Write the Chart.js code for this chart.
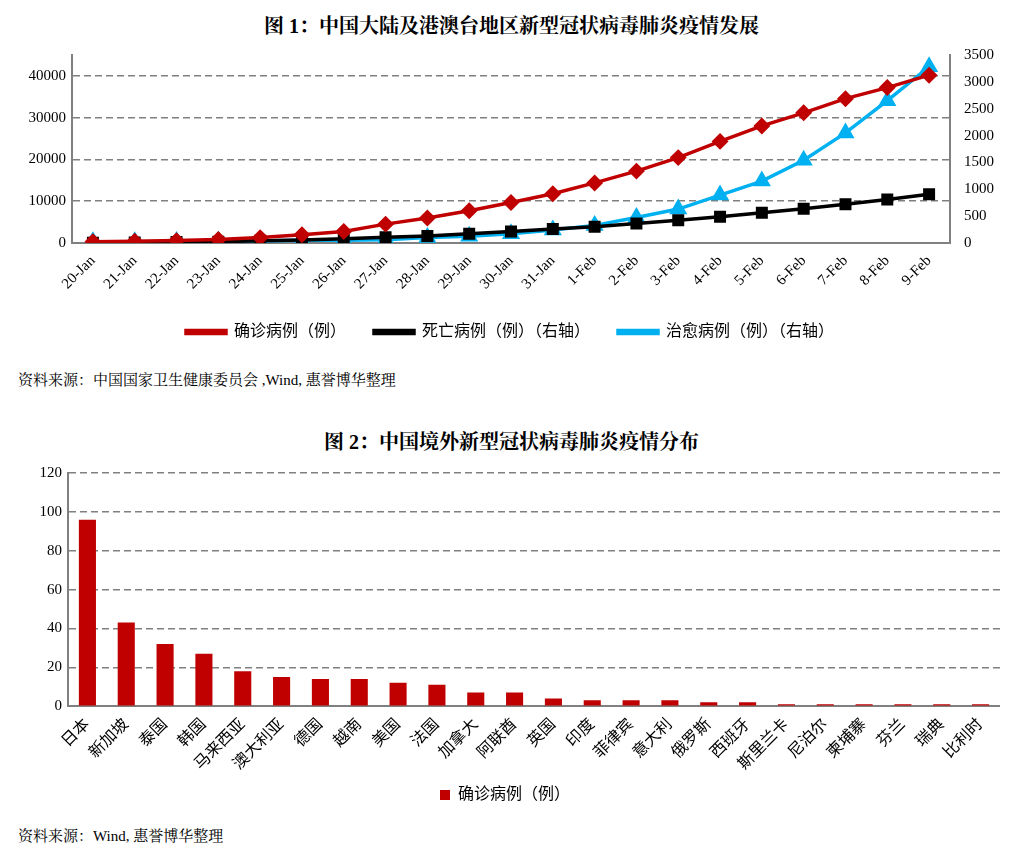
<!DOCTYPE html>
<html><head><meta charset="utf-8">
<script src="https://cdn.jsdelivr.net/npm/chart.js@4"></script>
<style>
body{margin:0;background:#fff;font-family:"Liberation Serif","Noto Serif CJK SC","Noto Sans CJK SC",serif;}
.t{position:absolute;left:0;width:1023px;text-align:center;font-weight:bold;font-size:20px;color:#000;}
.s{position:absolute;left:18px;font-size:15px;color:#000;}
#w1{position:absolute;left:8px;top:40px;width:1004px;height:310px;}
#w2{position:absolute;left:10px;top:458px;width:990px;height:355px;}
</style></head><body>
<div class="t" style="top:10px">图 1：中国大陆及港澳台地区新型冠状病毒肺炎疫情发展</div>
<div id="w1"><canvas id="c1"></canvas></div>
<div class="s" style="top:368px">资料来源：中国国家卫生健康委员会 ,Wind, 惠誉博华整理</div>
<div class="t" style="top:426px">图 2：中国境外新型冠状病毒肺炎疫情分布</div>
<div id="w2"><canvas id="c2"></canvas></div>
<div class="s" style="top:824px">资料来源：Wind, 惠誉博华整理</div>
<script>
const dates=["20-Jan","21-Jan","22-Jan","23-Jan","24-Jan","25-Jan","26-Jan","27-Jan","28-Jan","29-Jan","30-Jan","31-Jan","1-Feb","2-Feb","3-Feb","4-Feb","5-Feb","6-Feb","7-Feb","8-Feb","9-Feb"];
const confirmed=[291,440,571,830,1287,1975,2744,4515,5974,7711,9692,11791,14380,17205,20438,24324,28018,31161,34546,37198,40171];
const deaths=[6,9,17,25,41,56,80,106,132,170,213,259,304,361,425,490,563,636,722,811,908];
const cured=[25,25,28,34,38,49,51,60,103,124,171,243,328,475,632,892,1153,1540,2050,2649,3281];
const countries=["日本","新加坡","泰国","韩国","马来西亚","澳大利亚","德国","越南","美国","法国","加拿大","阿联酋","英国","印度","菲律宾","意大利","俄罗斯","西班牙","斯里兰卡","尼泊尔","柬埔寨","芬兰","瑞典","比利时"];
const abroad=[96,43,32,27,18,15,14,14,12,11,7,7,4,3,3,3,2,2,1,1,1,1,1,1];

const F="'Liberation Serif','Noto Sans CJK SC',serif";
Chart.defaults.font.family=F;Chart.defaults.font.size=15;Chart.defaults.color="#000";
const grid={color:"#808080",lineWidth:1.5,drawTicks:false};
const border={color:"#808080",width:2};
const plain=v=>String(v);
new Chart(document.getElementById('c1'),{type:'line',
data:{labels:dates,datasets:[
{label:"确诊病例（例）",data:confirmed,yAxisID:'y',borderColor:"#c00000",backgroundColor:"#c00000",pointStyle:'rectRot',pointRadius:6,borderWidth:3.5},
{label:"死亡病例（例）（右轴）",data:deaths,yAxisID:'y2',borderColor:"#000",backgroundColor:"#000",pointStyle:'rect',pointRadius:6,borderWidth:3.5},
{label:"治愈病例（例）（右轴）",data:cured,yAxisID:'y2',borderColor:"#00b0f0",backgroundColor:"#00b0f0",pointStyle:'triangle',pointRadius:7,borderWidth:3.5}]},
options:{responsive:true,maintainAspectRatio:false,animation:false,
plugins:{legend:{position:'bottom',labels:{boxWidth:40,boxHeight:3,font:{size:16},padding:28}},tooltip:{enabled:false}},
scales:{
x:{offset:true,grid:{display:false,offset:true,drawTicks:true,tickLength:6,color:"#808080"},border:border,ticks:{minRotation:45,maxRotation:45,font:{size:15}}},
y:{min:0,max:45000,ticks:{stepSize:5000,padding:6,callback:plain},grid:grid,border:{...border,dash:[7,4]},afterFit:a=>{a.width=64}},
y2:{position:'right',min:0,max:3500,ticks:{stepSize:500,padding:6,callback:plain},grid:{display:false},border:border,afterFit:a=>{a.width=62}}}}});

new Chart(document.getElementById('c2'),{type:'bar',
data:{labels:countries,datasets:[{label:"确诊病例（例）",data:abroad,backgroundColor:"#c00000",categoryPercentage:0.8,barPercentage:0.55}]},
options:{responsive:true,maintainAspectRatio:false,animation:false,
plugins:{legend:{position:'bottom',labels:{boxWidth:10,boxHeight:10,font:{size:16}}},tooltip:{enabled:false}},
scales:{
x:{grid:{display:false,drawTicks:true,tickLength:6},border:border,ticks:{minRotation:45,maxRotation:45,font:{size:16}}},
y:{min:0,max:120,ticks:{stepSize:20,padding:6},grid:grid,border:{...border,dash:[7,4]},afterFit:a=>{a.width=58}}}}});
</script></body></html>
